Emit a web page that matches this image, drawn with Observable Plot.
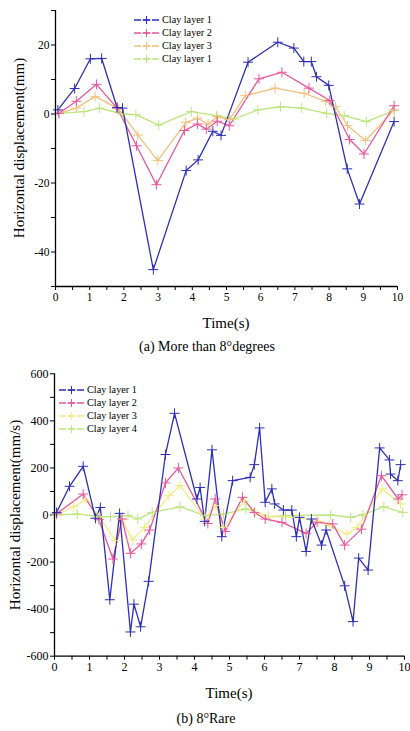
<!DOCTYPE html>
<html>
<head>
<meta charset="utf-8">
<script src="https://cdn.jsdelivr.net/npm/d3@7"></script>
<script src="https://cdn.jsdelivr.net/npm/@observablehq/plot@0.6"></script>
<style>
  html, body { margin: 0; padding: 0; background: #fff; }
  #root { position: relative; width: 410px; height: 731px; font-family: "Liberation Serif", "Times New Roman", serif; color: #000; }
  .fig { position: absolute; left: 0; }
  .cap { position: absolute; text-align: center; font-size: 14px; white-space: nowrap; transform: translate(-50%, -50%); }
  .alab { position: absolute; font-size: 15px; white-space: nowrap; transform: translate(-50%, -50%); }
  .alab.rot { transform: translate(-50%, -50%) rotate(-90deg); }
  .legend { position: absolute; font-size: 10.2px; line-height: 13px; }
  .legend .row { display: flex; align-items: center; height: 13px; }
  .legend svg { margin-right: 3px; }
</style>
</head>
<body>
<div id="root"></div>
<script>
// ---------- Chart (a): More than 8° ----------
const aLabels = ["Clay layer 1", "Clay layer 2", "Clay layer 3", "Clay layer 1"];
const aKeys = ["L1", "L2", "L3", "L4"];
const aColors = ["#2f2fb6", "#e8579c", "#f1c27c", "#bde67e"];

const a1T = [0.07, 0.56, 1.02, 1.35, 1.8, 1.96, 2.86, 3.82, 4.17, 4.6, 4.84, 5.63, 6.5, 6.97, 7.26, 7.48, 7.63, 7.99, 8.53, 8.89, 9.9];
const a1V = [1.2, 7.4, 16, 16.1, 1.9, 1.7, -45.1, -16.4, -13.3, -5, -6.2, 15, 20.8, 19.1, 15.2, 15.2, 10.8, 8.3, -15.9, -26.1, -2.2];
const a2T = [0.1, 0.61, 1.2, 1.8, 2.37, 2.95, 3.77, 4.15, 4.41, 4.73, 5.08, 5.95, 6.62, 7.41, 8.02, 8.6, 9.02, 9.9];
const a2V = [0.2, 3.7, 8.6, 1.7, -9.2, -20.5, -4.8, -2.9, -4.4, -2.1, -3.4, 10.2, 12.1, 7.5, 3.9, -7.4, -11.6, 2.4];
const a3T = [0.1, 0.61, 1.16, 1.85, 2.41, 2.99, 3.81, 4.15, 4.46, 4.72, 5.08, 5.55, 6.42, 7.27, 7.9, 8.19, 8.54, 9.07, 9.9];
const a3V = [0.2, 1.7, 5.1, 1.4, -6.1, -13.5, -2.5, -1.2, -2.9, -0.8, -1.6, 5.3, 7.5, 6, 3.7, 2.1, -3.4, -7.7, 1.2];
const a4T = [0.1, 0.83, 1.29, 1.95, 2.35, 3.02, 3.97, 4.71, 5.22, 5.92, 6.58, 7.2, 7.93, 8.44, 9.09, 9.9];
const a4V = [0.2, 0.7, 1.7, 0, -0.2, -3.2, 0.7, -0.5, -1.5, 1.2, 2.1, 1.7, 0.2, -0.5, -2.2, 1];
const aYTicks = [-50, -40, -30, -20, -10, 0, 10, 20, 30];
const aYLabeled = [-40, -20, 0, 20];

// ---------- Chart (b): 8° Rare ----------
const bLabels = ["Clay layer 1", "Clay layer 2", "Clay layer 3", "Clay layer 4"];
const bKeys = ["L1", "L2", "L3", "L4"];
const bColors = ["#2f2fb6", "#e8579c", "#f0ec86", "#bde67e"];

const b1T = [0.06, 0.43, 0.82, 1.17, 1.31, 1.58, 1.86, 2.17, 2.27, 2.46, 2.69, 3.17, 3.43, 4.07, 4.16, 4.29, 4.5, 4.78, 5.09, 5.59, 5.71, 5.86, 6.02, 6.21, 6.29, 6.54, 6.78, 6.91, 7.0, 7.19, 7.34, 7.63, 7.76, 8.29, 8.53, 8.69, 8.96, 9.29, 9.57, 9.6, 9.81, 9.89];
const b1V = [11, 122, 207, -14, 32, -360, 7, -497, -379, -475, -282, 257, 432, 68, 117, -27, 277, -92, 146, 160, 214, 370, 54, 111, 47, 21, 21, -92, -10, -155, -17, -128, -64, -301, -453, -183, -234, 285, 234, 174, 146, 214];
const b2T = [0.06, 0.82, 1.27, 1.67, 1.93, 2.17, 2.48, 2.72, 3.17, 3.54, 4.38, 4.59, 4.88, 5.37, 5.71, 6.02, 6.5, 7.19, 7.5, 7.95, 8.29, 8.77, 9.34, 9.82, 9.93];
const b2V = [5, 89, -20, -187, -17, -163, -123, -64, 136, 200, -36, 68, -70, 75, 11, -17, -31, -78, -31, -38, -128, -60, 167, 68, 86];
const b3T = [0.06, 0.55, 0.89, 1.29, 1.74, 1.93, 2.22, 2.57, 3.27, 3.59, 4.3, 4.61, 4.83, 5.43, 5.75, 6.11, 6.9, 7.55, 7.85, 8.36, 8.65, 9.36, 9.89];
const b3V = [0, 35, 64, -10, -109, -17, -106, -53, 82, 125, -17, 40, -53, 61, 11, -7, -10, -27, -44, -81, -53, 111, 47];
const b4T = [0.06, 0.65, 1.22, 1.6, 2.1, 2.38, 2.79, 3.59, 4.3, 4.83, 5.47, 6.11, 6.6, 7.89, 8.46, 8.81, 9.41, 9.95];
const b4V = [0, 4, -6, -7, -3, -17, 11, 35, -3, 4, 26, -7, -3, 0, -10, 1, 35, 11];
const bYTicks = d3.range(-600, 601, 100);
const bYLabeled = [-600, -400, -200, 0, 200, 400, 600];

const xTicks = d3.range(0, 10.01, 0.5);

function rows(keys, ts, vs) {
  const out = [];
  keys.forEach((k, i) => ts[i].forEach((t, j) => out.push({series: k, t, v: vs[i][j]})));
  return out;
}

function makeChart({data, keys, colors, yDomain, yTicks, yLabeled, height, mt, mb, ml, mr, fs}) {
  const order = [...keys].reverse();
  const drawData = order.flatMap(k => data.filter(d => d.series === k));
  return Plot.plot({
    width: 410, height,
    marginTop: mt, marginBottom: mb, marginLeft: ml, marginRight: mr,
    style: {fontFamily: "Liberation Serif, Times New Roman, serif", fontSize: fs + "px", color: "#000", background: "transparent"},
    x: {domain: [0, 10]},
    y: {domain: yDomain},
    color: {domain: keys, range: colors},
    marks: [
      Plot.axisX({ticks: xTicks, tickSize: 4, tickPadding: 2,
        tickFormat: d => (Math.abs(d % 1) < 1e-9 ? String(d) : ""), label: null}),
      Plot.axisY({ticks: yTicks, tickSize: 4, tickPadding: 2,
        tickFormat: d => (yLabeled.includes(d) ? String(d) : ""), label: null}),
      ...order.map(k => Plot.line(data.filter(d => d.series === k), {x: "t", y: "v", stroke: "series", strokeWidth: 1.3})),
      Plot.dot(drawData, {x: "t", y: "v", stroke: "series", symbol: "plus", r: 3.3, strokeWidth: 1}),
      Plot.ruleX([0], {stroke: "#000", strokeWidth: 1.3}),
      Plot.ruleY([yDomain[0]], {stroke: "#000", strokeWidth: 1.3})
    ]
  });
}

function legend(labels, colors, left, top) {
  const div = document.createElement("div");
  div.className = "legend";
  div.style.left = left + "px";
  div.style.top = top + "px";
  labels.forEach((lab, i) => {
    const row = document.createElement("div");
    row.className = "row";
    const ns = "http://www.w3.org/2000/svg";
    const s = document.createElementNS(ns, "svg");
    s.setAttribute("width", 25); s.setAttribute("height", 10);
    const ln = document.createElementNS(ns, "line");
    ln.setAttribute("x1", 0); ln.setAttribute("x2", 25); ln.setAttribute("y1", 5); ln.setAttribute("y2", 5);
    ln.setAttribute("stroke", colors[i]); ln.setAttribute("stroke-width", 1.6); ln.setAttribute("stroke-dasharray", "7 2");
    const p = document.createElementNS(ns, "path");
    p.setAttribute("d", "M8.5,5H16.5M12.5,1V9");
    p.setAttribute("stroke", colors[i]); p.setAttribute("stroke-width", 1);
    s.appendChild(ln); s.appendChild(p);
    const tx = document.createElement("span");
    tx.textContent = lab;
    row.appendChild(s); row.appendChild(tx);
    div.appendChild(row);
  });
  return div;
}

function text(cls, str, cx, cy) {
  const d = document.createElement("div");
  d.className = cls;
  d.style.left = cx + "px";
  d.style.top = cy + "px";
  d.textContent = str;
  return d;
}

const root = document.getElementById("root");

const dataA = rows(aKeys, [a1T, a2T, a3T, a4T], [a1V, a2V, a3V, a4V]);
const chartA = makeChart({data: dataA, keys: aKeys, colors: aColors, yDomain: [-50, 30],
  yTicks: aYTicks, yLabeled: aYLabeled,
  height: 340, mt: 10, mb: 54, ml: 55, mr: 13, fs: 11.5});
const figA = document.createElement("div"); figA.className = "fig"; figA.style.top = "0px";
figA.appendChild(chartA); root.appendChild(figA);
root.appendChild(legend(aLabels, aColors, 134, 13));
root.appendChild(text("alab rot", "Horizontal displacement(mm)", 19, 148));
root.appendChild(text("alab", "Time(s)", 226, 323));
root.appendChild(text("cap", "(a) More than 8°degrees", 207, 347));

const dataB = rows(bKeys, [b1T, b2T, b3T, b4T], [b1V, b2V, b3V, b4V]);
const chartB = makeChart({data: dataB, keys: bKeys, colors: bColors, yDomain: [-600, 600],
  yTicks: bYTicks, yLabeled: bYLabeled,
  height: 340, mt: 11.3, mb: 46.3, ml: 54, mr: 6, fs: 12});
const figB = document.createElement("div"); figB.className = "fig"; figB.style.top = "362px";
figB.appendChild(chartB); root.appendChild(figB);
root.appendChild(legend(bLabels, bColors, 59, 383));
root.appendChild(text("alab rot", "Horizontal displacement(mm/s)", 15, 515));
root.appendChild(text("alab", "Time(s)", 229, 693));
root.appendChild(text("cap", "(b) 8°Rare", 206, 719));
</script>
</body>
</html>
